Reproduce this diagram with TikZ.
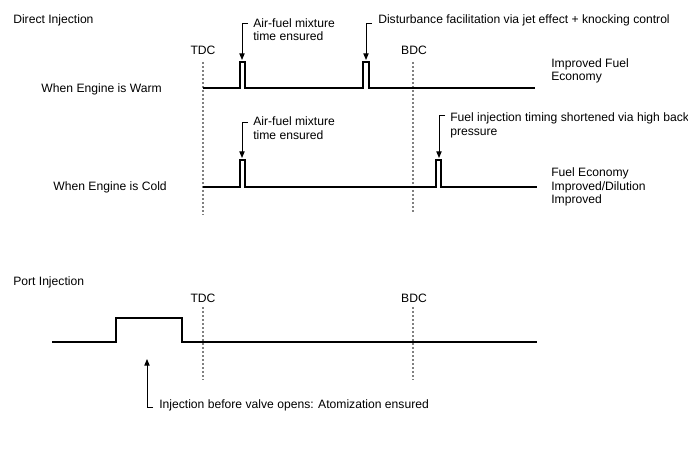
\documentclass[tikz,border=0pt]{standalone}
\usepackage{fontspec}
\setmainfont{Liberation Sans}
\usetikzlibrary{arrows.meta,positioning}
\begin{document}
\begin{tikzpicture}[
    x=0.75pt, y=-0.75pt,
    font=\fontsize{9.1}{10.2}\selectfont,
    >={Triangle[length=5pt,width=4pt]},
    signal/.style={line width=1.1pt},
    marker/.style={gray, line width=0.9pt, dash pattern=on 1.5pt off 1.5pt},
    note/.style={inner sep=0pt, align=left, anchor=west},
    callout/.style={line width=0.7pt, ->}
]
\useasboundingbox (0,0) rectangle (688,463);

\node[note] (di) at (13,20) {Direct Injection};
\node[inner sep=0pt, anchor=east] (warm) at (162,89) {When Engine is Warm};
\node[inner sep=0pt, anchor=east] (cold) at (167,187) {When Engine is Cold};
\node[inner sep=0pt] (tdc1) at (203,50) {TDC};
\node[inner sep=0pt] (bdc1) at (414,50) {BDC};
\draw[marker] (203,62) -- (203,215);
\draw[marker] (413,62) -- (413,213);

\draw[signal] (203,88) -- (240,88) -- (240,62) -- (245,62) -- (245,88) -- (363,88)
    -- (363,62) -- (369,62) -- (369,88) -- (535,88);
\draw[signal] (203,187) -- (240,187) -- (240,160) -- (245,160) -- (245,187) -- (436,187)
    -- (436,160) -- (441,160) -- (441,187) -- (537,187);

\coordinate (w1a) at (248,23); \coordinate (w1b) at (242,60);
\coordinate (w2a) at (372,23); \coordinate (w2b) at (366,60);
\coordinate (c1a) at (248,122); \coordinate (c1b) at (242,158);
\coordinate (c2a) at (445,115); \coordinate (c2b) at (439,158);
\draw[callout] (w1a) -| (w1b);
\draw[callout] (w2a) -| (w2b);
\draw[callout] (c1a) -| (c1b);
\draw[callout] (c2a) -| (c2b);

\node[note] (w1t) at (253,29.5) {Air-fuel mixture\\time ensured};
\node[note] (w2t) at (378,20) {Disturbance facilitation via jet effect + knocking control};
\node[note] (c1t) at (253,128) {Air-fuel mixture\\time ensured};
\node[note] (c2t) at (450,125.5) {Fuel injection timing shortened via high back\\pressure};
\node[note] (wres) at (551,71) {Improved Fuel\\Economy};
\node[note] (cres) at (551,187) {Fuel Economy\\Improved/Dilution\\Improved};

\node[note] (pi) at (13,282) {Port Injection};
\node[inner sep=0pt] (tdc2) at (203,298) {TDC};
\node[inner sep=0pt] (bdc2) at (414,298) {BDC};
\draw[marker] (203,307) -- (203,380);
\draw[marker] (413,307) -- (413,380);
\draw[signal] (52,342) -- (116,342) -- (116,318) -- (182,318) -- (182,342) -- (537,342);

\coordinate (p1a) at (153,407); \coordinate (p1b) at (147,359);
\draw[callout] (p1a) -| (p1b);
\node[note] (p1t) at (159,405) {Injection before valve opens: Atomization ensured};
\end{tikzpicture}
\end{document}
